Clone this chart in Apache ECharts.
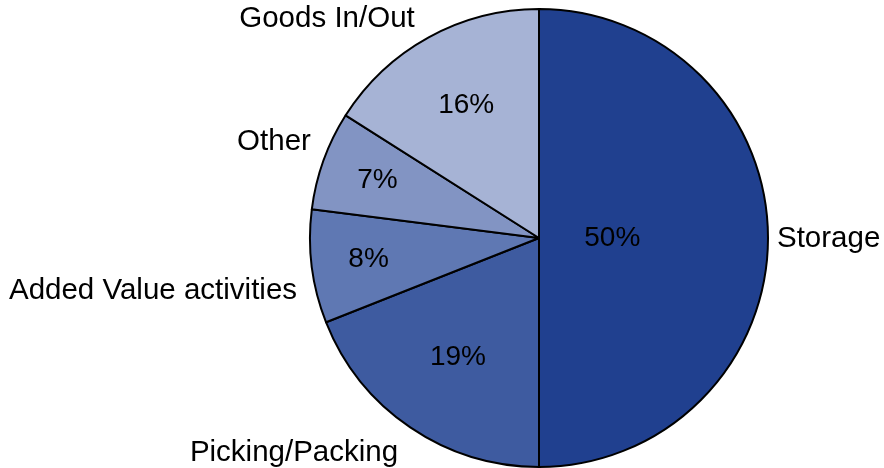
<!DOCTYPE html>
<html><head><meta charset="utf-8">
<script src="https://cdn.jsdelivr.net/npm/echarts@6/dist/echarts.min.js"></script>
<style>html,body{margin:0;padding:0;background:#fff}#c{width:884px;height:468px}</style>
</head><body><div id="c"></div>
<script>
const categories = ['Storage', 'Picking/Packing', 'Added Value activities', 'Other', 'Goods In/Out'];
const values = [50, 19, 8, 7, 16];
const colors = ['#20408f', '#3e5ba0', '#5f78b3', '#8294c3', '#a6b3d5'];

const CX = 539, CY = 238, R = 229;
const FONT = '"Liberation Sans", Arial, sans-serif';
// radial position (fraction of radius) of percentage labels
const innerFrac = [0.32, 0.63, 0.75, 0.75, 0.66];
// outside label anchors
const outerPos = [
  {x: 777, y: 239, align: 'left'},
  {x: 294, y: 453, align: 'center'},
  {x: 153, y: 291, align: 'center'},
  {x: 274, y: 142, align: 'center'},
  {x: 327, y: 19, align: 'center'}
];
const total = values.reduce((a, b) => a + b, 0);
function midAngle(i) {
  let s = 0;
  for (let k = 0; k < i; k++) s += values[k];
  return (s + values[i] / 2) / total * 2 * Math.PI;
}
const data = categories.map((c, i) => ({name: c, value: values[i], itemStyle: {color: colors[i]}}));

const chart = echarts.init(document.getElementById('c'), null, {renderer: 'canvas'});
chart.setOption({
  animation: false,
  series: [
    {
      type: 'pie', center: [CX, CY], radius: [0, R], startAngle: 90, clockwise: true,
      data: data,
      itemStyle: {borderColor: '#000', borderWidth: 2},
      label: {show: true, position: 'inside', formatter: p => p.value + '%', color: '#000', fontSize: 28, fontFamily: FONT},
      labelLine: {show: false},
      labelLayout: function (p) {
        const a = midAngle(p.dataIndex), r = R * innerFrac[p.dataIndex];
        return {x: CX + r * Math.sin(a), y: CY - r * Math.cos(a), align: 'center', verticalAlign: 'middle'};
      },
      emphasis: {disabled: true}
    },
    {
      type: 'pie', center: [CX, CY], radius: [0, R], startAngle: 90, clockwise: true, silent: true,
      data: categories.map((c, i) => ({name: c, value: values[i]})),
      itemStyle: {color: 'rgba(0,0,0,0)', borderWidth: 0},
      label: {show: true, position: 'outside', formatter: '{b}', color: '#000', fontSize: 29.5, fontFamily: FONT, overflow: 'none', width: 400},
      labelLine: {show: false},
      labelLayout: function (p) {
        const o = outerPos[p.dataIndex];
        return {x: o.x, y: o.y, align: o.align, verticalAlign: 'middle'};
      },
      emphasis: {disabled: true}
    }
  ]
});
</script></body></html>
